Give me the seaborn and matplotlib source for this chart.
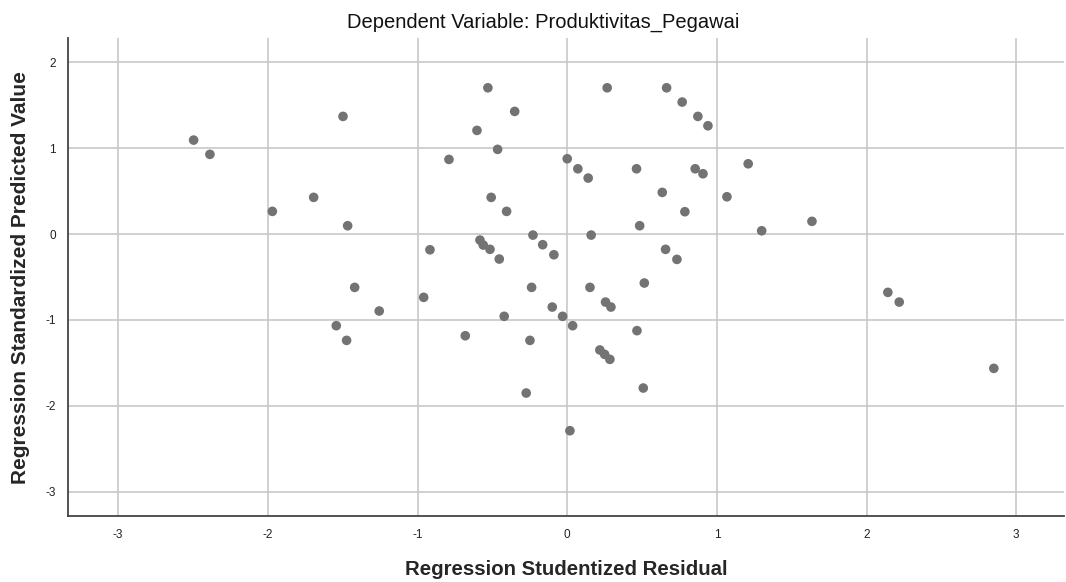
import matplotlib
matplotlib.use("Agg")
import matplotlib.pyplot as plt
import seaborn as sns
import pandas as pd

residual = [-2.496, -2.387, -1.498, -1.970, -1.694, -1.467,
            -0.530, -0.351, -0.603, -0.465, -0.790, 0.267, 0.664, 0.768, 0.873, 0.940,
            0.000, 0.071, 0.140, 0.463, 0.855, 0.907, 1.209, 0.635, 1.067, -0.508,
            -0.405, 0.786, 0.484, 1.299, 1.635, 0.160, -0.229, -0.917, -0.583, -0.561,
            -0.516, -0.454, -0.164, -0.089, 0.657, 0.733,
            -0.959, -0.681, -0.238, -0.421, -0.249, -0.100, -0.031, 0.036, 0.152,
            0.256, 0.292, 0.515, 0.466, 0.218, 0.250, 0.285, 0.508, -0.274, 0.018,
            -1.420, -1.256, -1.543, -1.474,
            2.142, 2.218, 2.850]
predicted = [1.094, 0.928, 1.370, 0.264, 0.427, 0.097,
             1.703, 1.428, 1.207, 0.986, 0.869, 1.703, 1.703, 1.537, 1.370, 1.261,
             0.877, 0.760, 0.652, 0.760, 0.760, 0.702, 0.818, 0.485, 0.434, 0.427,
             0.264, 0.260, 0.097, 0.038, 0.148, -0.012, -0.012, -0.183, -0.070, -0.128,
             -0.178, -0.291, -0.124, -0.241, -0.178, -0.295,
             -0.737, -1.184, -0.621, -0.958, -1.238, -0.850, -0.958, -1.067, -0.621,
             -0.792, -0.850, -0.570, -1.125, -1.350, -1.401, -1.459, -1.793, -1.851, -2.290,
             -0.621, -0.896, -1.067, -1.238,
             -0.679, -0.792, -1.564]
x_ticks = [-3, -2, -1, 0, 1, 2, 3]
y_ticks = [-3, -2, -1, 0, 1, 2]

df = pd.DataFrame({"resid": residual, "pred": predicted})

sns.set_style("white")
plt.rcParams["font.family"] = ["Liberation Sans", "DejaVu Sans"]
plt.rcParams["axes.unicode_minus"] = False

fig = plt.figure(figsize=(10.66, 5.82), dpi=100)
ax = fig.add_axes([0.0641, 0.1134, 0.9339, 0.8206])

sns.scatterplot(data=df, x="resid", y="pred", ax=ax, color="#737373",
                s=48, edgecolor="none", zorder=3)

ax.set_xlim(-3.333, 3.318)
ax.set_ylim(-3.283, 2.278)
ax.set_xticks(x_ticks)
ax.set_yticks(y_ticks)
ax.grid(True, color="#c8c8c8", linewidth=1.2)
ax.set_axisbelow(True)
ax.tick_params(length=0, labelsize=8.5, colors="#222222", pad=9)

for side in ["top", "right"]:
    ax.spines[side].set_visible(False)
for side in ["left", "bottom"]:
    ax.spines[side].set_color("#444444")
    ax.spines[side].set_linewidth(1.3)

ax.set_xlabel("Regression Studentized Residual", fontsize=14.7, fontweight="bold", labelpad=14)
ax.set_ylabel("Regression Standardized Predicted Value", fontsize=15, fontweight="bold", labelpad=11)
fig.text(0.5094, 0.9519, "Dependent Variable: Produktivitas_Pegawai", fontsize=14.5,
         ha="center", va="baseline", color="#111111")

fig.savefig("out.png", dpi=100)
